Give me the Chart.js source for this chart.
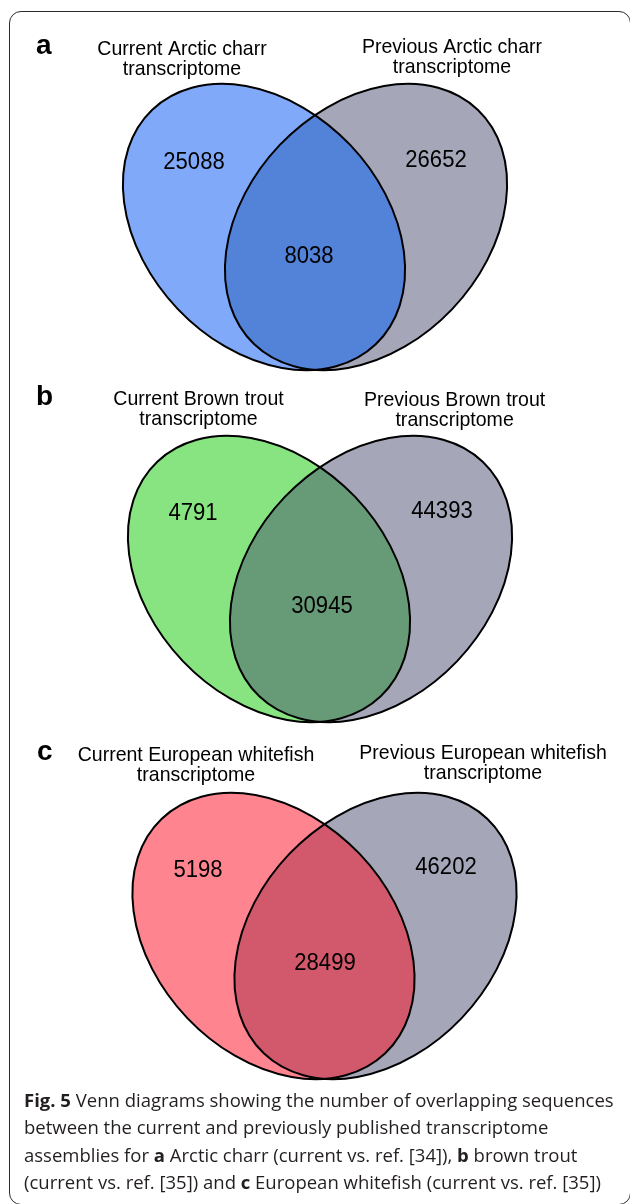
<!DOCTYPE html>
<html>
<head>
<meta charset="utf-8">
<title>Fig. 5 Venn diagrams</title>
<script src="https://cdn.jsdelivr.net/npm/chart.js@4.4.1/dist/chart.umd.min.js"></script>
<style>
  html, body { margin: 0; padding: 0; background: #fff; }
  body { width: 630px; height: 1204px; position: relative; overflow: hidden; }
  #frame {
    position: absolute; left: 9px; top: 11px; width: 622px; height: 1194px;
    box-sizing: border-box; border: 1.6px solid #2b2b2b; border-radius: 12px;
  }
  canvas.panel { position: absolute; left: 0; }
  #caption {
    position: absolute; left: 24px; top: 1086px;
    font-family: 'Open Sans', sans-serif; font-size: 18.5px; line-height: 27.4px;
    color: #231f20; white-space: nowrap;
  }
  #caption b { font-weight: 700; }
</style>
</head>
<body>
<div id="frame"></div>
<canvas id="venn-a" class="panel"></canvas>
<canvas id="venn-b" class="panel"></canvas>
<canvas id="venn-c" class="panel"></canvas>
<div id="caption"><b>Fig. 5</b> Venn diagrams showing the number of overlapping sequences<br>between the current and previously published transcriptome<br>assemblies for <b>a</b> Arctic charr (current vs. ref. [34]), <b>b</b> brown trout<br>(current vs. ref. [35]) and <b>c</b> European whitefish (current vs. ref. [35])</div>

<script>
// --- data ---
const panelLetters = ['a', 'b', 'c'];
const currentTitles = [
  ['Current Arctic charr', 'transcriptome'],
  ['Current Brown trout', 'transcriptome'],
  ['Current European whitefish', 'transcriptome']
];
const previousTitles = [
  ['Previous Arctic charr', 'transcriptome'],
  ['Previous Brown trout', 'transcriptome'],
  ['Previous European whitefish', 'transcriptome']
];
const currentOnly = [25088, 4791, 5198];
const previousOnly = [26652, 44393, 46202];
const shared = [8038, 30945, 28499];

// --- colours ---
const currentColors = ['#80aaf9', '#88e480', '#fe858f'];
const sharedColors = ['#5382d9', '#679b77', '#d2596c'];
const previousColor = '#a5a6b8';

// --- layout (page pixels) ---
const panelTop = [14, 376, 730];
const panelHeight = [362, 354, 358];
const ellipseY = [227, 579, 936];
const ellipseLeftX = [264, 269, 273.5];
const ellipseGap = 102;
const RX = 162, RY = 119, TILT = 46.4 * Math.PI / 180;

const letterPos = [[36, 54], [36, 405], [37, 760]];
const currentTitlePos = [[182, 55], [198.5, 405], [196, 761]];
const previousTitlePos = [[452, 53], [454.6, 406], [483, 759]];
const currentCountPos = [[194, 169], [193, 520], [198, 877]];
const previousCountPos = [[436, 167], [442, 518], [446, 874]];
const sharedCountPos = [[309, 263], [322, 613], [325, 970]];

const TITLE_FONT = '21px "Liberation Sans", Arial, sans-serif';
const COUNT_FONT = '23px "Liberation Sans", Arial, sans-serif';
const LETTER_FONT = 'bold 28px "Liberation Sans", Arial, sans-serif';

function drawText(ctx, text, x, y, font, scaleX) {
  ctx.save();
  ctx.translate(x, y);
  ctx.scale(scaleX, 1);
  ctx.font = font;
  ctx.fillStyle = '#000';
  ctx.textAlign = 'center';
  ctx.textBaseline = 'alphabetic';
  ctx.fillText(text, 0, 0);
  ctx.restore();
}

const vennPlugin = {
  id: 'venn',
  afterDraw(chart, args, opts) {
    const { ctx } = chart;
    const sx = chart.scales.x, sy = chart.scales.y;
    const px = v => sx.getPixelForValue(v);
    const py = v => sy.getPixelForValue(v);
    const i = opts.index;

    const cy = ellipseY[i];
    const lx = ellipseLeftX[i];
    const rx = lx + ellipseGap;

    const path = (cx, rot) => {
      ctx.beginPath();
      ctx.ellipse(px(cx), py(cy), px(cx + RX) - px(cx), py(cy + RY) - py(cy) , rot, 0, Math.PI * 2);
    };

    ctx.save();
    // left (current) set
    path(lx, TILT);
    ctx.fillStyle = currentColors[i];
    ctx.fill();
    // right (previous) set
    path(rx, -TILT);
    ctx.fillStyle = previousColor;
    ctx.fill();
    // overlap
    ctx.save();
    path(lx, TILT);
    ctx.clip();
    path(rx, -TILT);
    ctx.fillStyle = sharedColors[i];
    ctx.fill();
    ctx.restore();
    // outlines
    ctx.lineWidth = 2;
    ctx.strokeStyle = '#000';
    path(lx, TILT);
    ctx.stroke();
    path(rx, -TILT);
    ctx.stroke();
    ctx.restore();

    // texts
    ctx.save();
    ctx.font = LETTER_FONT;
    ctx.fillStyle = '#000';
    ctx.textAlign = 'left';
    ctx.fillText(panelLetters[i], px(letterPos[i][0]), py(letterPos[i][1]));
    ctx.restore();

    currentTitles[i].forEach((t, k) =>
      drawText(ctx, t, px(currentTitlePos[i][0]), py(currentTitlePos[i][1] + k * 20), TITLE_FONT, 0.93));
    previousTitles[i].forEach((t, k) =>
      drawText(ctx, t, px(previousTitlePos[i][0]), py(previousTitlePos[i][1] + k * 20), TITLE_FONT, 0.93));

    drawText(ctx, String(currentOnly[i]), px(currentCountPos[i][0]), py(currentCountPos[i][1]), COUNT_FONT, 0.96);
    drawText(ctx, String(previousOnly[i]), px(previousCountPos[i][0]), py(previousCountPos[i][1]), COUNT_FONT, 0.96);
    drawText(ctx, String(shared[i]), px(sharedCountPos[i][0]), py(sharedCountPos[i][1]), COUNT_FONT, 0.96);
  }
};

panelLetters.forEach((letter, i) => {
  const canvas = document.getElementById('venn-' + letter);
  canvas.width = 630;
  canvas.height = panelHeight[i];
  canvas.style.top = panelTop[i] + 'px';
  canvas.style.width = '630px';
  canvas.style.height = panelHeight[i] + 'px';

  new Chart(canvas, {
    type: 'scatter',
    data: { datasets: [] },
    options: {
      responsive: false,
      animation: false,
      events: [],
      layout: { padding: 0 },
      plugins: {
        legend: { display: false },
        tooltip: { enabled: false },
        venn: { index: i }
      },
      scales: {
        x: { type: 'linear', min: 0, max: 630, display: false },
        y: { type: 'linear', min: panelTop[i], max: panelTop[i] + panelHeight[i], reverse: true, display: false }
      }
    },
    plugins: [vennPlugin]
  });
});
</script>
</body>
</html>
